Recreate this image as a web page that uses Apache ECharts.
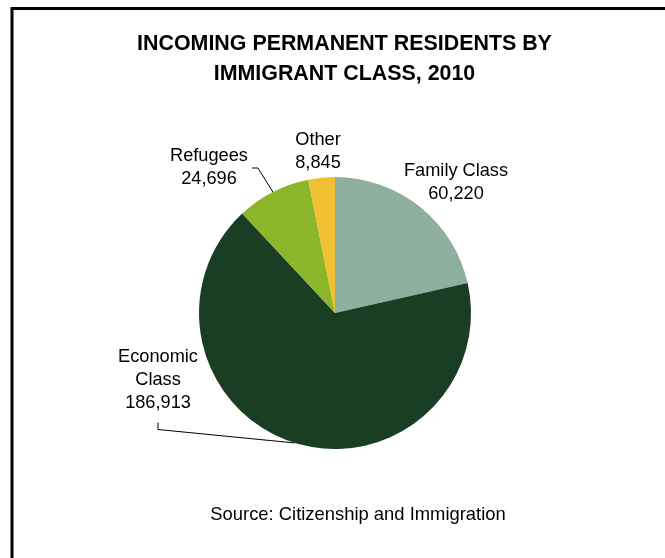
<!DOCTYPE html>
<html>
<head>
<meta charset="utf-8">
<script src="https://cdn.jsdelivr.net/npm/echarts@6/dist/echarts.min.js"></script>
<style>
  html, body { margin: 0; padding: 0; background: #fff; }
  #chart { width: 665px; height: 558px; }
</style>
</head>
<body>
<div id="chart"></div>
<script>
// Permanent residents admitted in 2010, by immigrant class
const categories = ['Family Class', 'Economic Class', 'Refugees', 'Other'];
const residents = [60220, 186913, 24696, 8845];
const labelNames = ['Family Class', 'Economic\nClass', 'Refugees', 'Other'];

const sliceColors = ['#8faf9f', '#193e23', '#8bb629', '#f2bf32'];
const FONT = '"Liberation Sans", Arial, sans-serif';

// Label placement around the pie (centre of each label block) and
// whether a leader line runs from the slice to the label.
const labelPlacement = {
  'Family Class':   { x: 456, y: 182, leader: null },
  'Economic Class': { x: 158, y: 380, leader: 'below' },
  'Refugees':       { x: 209, y: 167, leader: 'right' },
  'Other':          { x: 318, y: 151, leader: null }
};

const chart = echarts.init(document.getElementById('chart'), null, { renderer: 'canvas' });

const fmt = v => v.toLocaleString('en-US');

const pieData = categories.map((name, i) => ({
  name: name,
  value: residents[i],
  itemStyle: { color: sliceColors[i] },
  labelLine: { show: labelPlacement[name].leader !== null },
  label: { formatter: labelNames[i] + '\n' + fmt(residents[i]) }
}));

chart.setOption({
  animation: false,
  backgroundColor: '#ffffff',
  title: {
    text: 'INCOMING PERMANENT RESIDENTS BY\nIMMIGRANT CLASS, 2010',
    left: 344.5,
    textAlign: 'center',
    top: 29,
    padding: 0,
    textStyle: {
      fontFamily: FONT,
      fontWeight: 'bold',
      fontSize: 21.4,
      lineHeight: 30,
      color: '#000'
    }
  },
  graphic: [
    {
      type: 'rect',
      shape: { x: 12, y: 8.5, width: 800, height: 700 },
      style: { fill: 'none', stroke: '#000', lineWidth: 3 },
      silent: true
    },
    {
      type: 'text',
      x: 358,
      y: 515,
      style: {
        text: 'Source: Citizenship and Immigration',
        font: '18.4px ' + FONT,
        fill: '#000',
        align: 'center',
        verticalAlign: 'middle'
      }
    }
  ],
  series: [{
    type: 'pie',
    center: [335, 313],
    radius: 136,
    startAngle: 90,
    clockwise: true,
    avoidLabelOverlap: false,
    data: pieData,
    itemStyle: { borderWidth: 0 },
    label: {
      show: true,
      position: 'outside',
      fontFamily: FONT,
      fontSize: 18.2,
      lineHeight: 23,
      color: '#000',
      align: 'center'
    },
    labelLine: {
      show: true,
      lineStyle: { color: '#000', width: 1 }
    },
    emphasis: { disabled: true },
    labelLayout: function (params) {
      const name = categories[params.dataIndex];
      const p = labelPlacement[name];
      const out = { x: p.x, y: p.y, align: 'center', verticalAlign: 'middle' };
      const anchor = params.labelLinePoints && params.labelLinePoints[0];
      const r = params.labelRect;
      if (anchor && p.leader === 'below') {
        const top = p.y + r.height / 2 + 8;
        out.labelLinePoints = [anchor, [p.x, top + 7], [p.x, top]];
      } else if (anchor && p.leader === 'right') {
        const sx = p.x + r.width / 2 + 4;
        out.labelLinePoints = [anchor, [sx + 6, p.y + 1], [sx, p.y + 1]];
      }
      return out;
    }
  }]
});
</script>
</body>
</html>
